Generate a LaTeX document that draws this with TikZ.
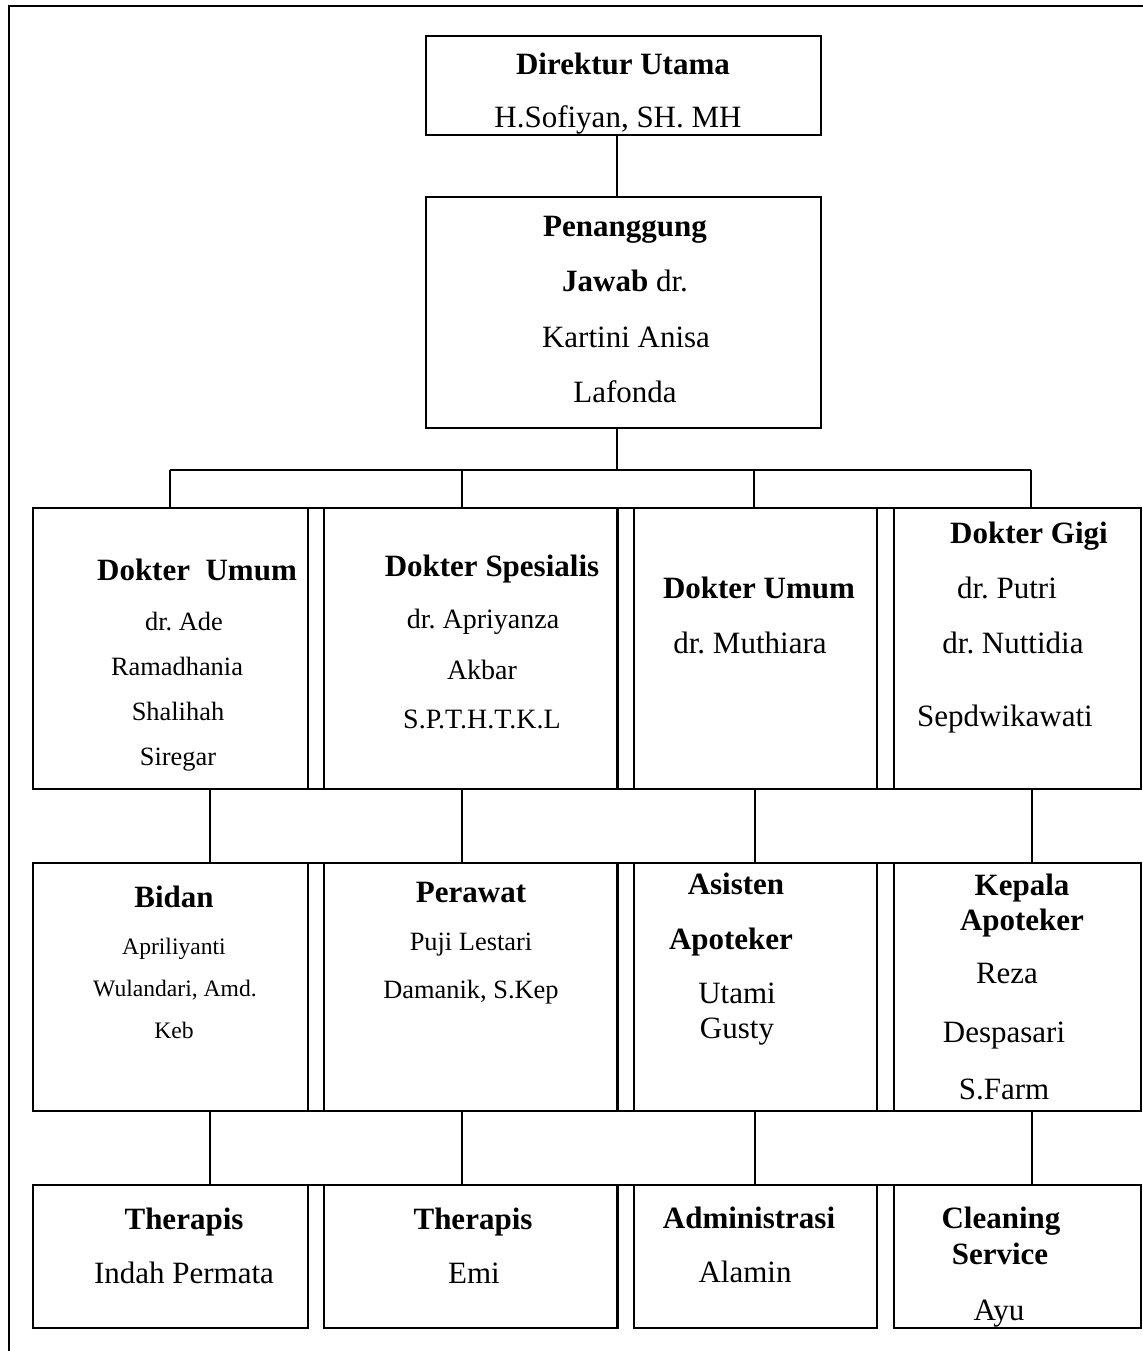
\documentclass[tikz,border=0pt]{standalone}
\usepackage{fontspec}
\setmainfont{Liberation Serif}
\frenchspacing
\begin{document}
\begin{tikzpicture}[x=0.5pt,y=-0.5pt,
  box/.style={draw,line width=1.25pt,inner sep=0pt,outer sep=0pt},
  rowA/.style={minimum height=140.5pt},
  rowB/.style={minimum height=124pt},
  rowC/.style={minimum height=71.5pt},
  colA/.style={minimum width=137.5pt},
  colB/.style={minimum width=146.75pt},
  colC/.style={minimum width=121.5pt},
  colD/.style={minimum width=123.5pt},
  conn/.style={line width=0.85pt},
  frameline/.style={line width=1.25pt},
  rowline/.style={line width=1.25pt},
  big/.style={inner sep=0pt,font=\fontsize{15.5}{18}\selectfont,text height=10.3pt,text depth=0pt},
  med/.style={inner sep=0pt,font=\fontsize{14}{16}\selectfont,text height=9.3pt,text depth=0pt},
  sml/.style={inner sep=0pt,font=\fontsize{13.2}{15}\selectfont,text height=8.7pt,text depth=0pt},
  tiny/.style={inner sep=0pt,font=\fontsize{11.8}{14}\selectfont,text height=7.8pt,text depth=0pt}
]
\useasboundingbox (0,0) rectangle (1143,1351);
% frame (top and left lines)
\coordinate (fTL) at (9,6);
\coordinate (fTR) at (1143,6);
\coordinate (fBL) at (9,1351);
\draw[frameline] (fTR) -- (fTL) -- (fBL);

% top boxes
\node[box,minimum width=197.5pt,minimum height=49.5pt] (top) at (623.5,85.5) {};
\node[box,minimum width=197.5pt,minimum height=115.5pt] (pen) at (623.5,312.5) {};

% row 1
\node[box,rowA,colA] (b11) at (170.5,648.5) {};
\node[box,rowA,colB] (b12) at (470.5,648.5) {};
\node[box,rowA,colC] (b13) at (755.5,648.5) {};
\node[box,rowA,colD] (b14) at (1017.5,648.5) {};
% row 2
\node[box,rowB,colA] (b21) at (170.5,987) {};
\node[box,rowB,colB] (b22) at (470.5,987) {};
\node[box,rowB,colC] (b23) at (755.5,987) {};
\node[box,rowB,colD] (b24) at (1017.5,987) {};
% row 3
\node[box,rowC,colA] (b31) at (170.5,1256.5) {};
\node[box,rowC,colB] (b32) at (470.5,1256.5) {};
\node[box,rowC,colC] (b33) at (755.5,1256.5) {};
\node[box,rowC,colD] (b34) at (1017.5,1256.5) {};

% continuous row lines across gaps
\foreach \r in {1,2}{
  \draw[rowline] (b\r1.north east) -- (b\r2.north west);
  \draw[rowline] (b\r2.north east) -- (b\r3.north west);
  \draw[rowline] (b\r3.north east) -- (b\r4.north west);
  \draw[rowline] (b\r1.south east) -- (b\r2.south west);
  \draw[rowline] (b\r2.south east) -- (b\r3.south west);
  \draw[rowline] (b\r3.south east) -- (b\r4.south west);
}
\draw[rowline] (b31.north east) -- (b32.north west);
\draw[rowline] (b32.north east) -- (b33.north west);
\draw[rowline] (b33.north east) -- (b34.north west);

% connectors
\coordinate (bus) at (617,470);
\coordinate (busL) at (170,470);
\coordinate (busB) at (462,470);
\coordinate (busC) at (754,470);
\coordinate (busR) at (1031,470);
\draw[conn] (top.south -| bus) -- (pen.north -| bus);
\draw[conn] (pen.south -| bus) -- (bus);
\draw[conn] (busL) -- (busR);
\draw[conn] (busL) -- (busL |- b11.north);
\draw[conn] (busB) -- (busB |- b12.north);
\draw[conn] (busC) -- (busC |- b13.north);
\draw[conn] (busR) -- (busR |- b14.north);

\coordinate (xA) at (210,0);
\coordinate (xB) at (462,0);
\coordinate (xC) at (755,0);
\coordinate (xD) at (1032,0);
\draw[conn] (xA |- b11.south) -- (xA |- b21.north);
\draw[conn] (xB |- b12.south) -- (xB |- b22.north);
\draw[conn] (xC |- b13.south) -- (xC |- b23.north);
\draw[conn] (xD |- b14.south) -- (xD |- b24.north);
\draw[conn] (xA |- b21.south) -- (xA |- b31.north);
\draw[conn] (xB |- b22.south) -- (xB |- b32.north);
\draw[conn] (xC |- b23.south) -- (xC |- b33.north);
\draw[conn] (xD |- b24.south) -- (xD |- b34.north);

% texts: top
\node[big] (t1) at (623,64) {\textbf{Direktur Utama}};
\node[big] (t2) at (618,117) {H.Sofiyan, SH. MH};
\node[big] (p1) at (625,226) {\textbf{Penanggung}};
\node[big] (p2) at (625,281) {\textbf{Jawab} dr.};
\node[big] (p3) at (626,337) {Kartini Anisa};
\node[big] (p4) at (625,392) {Lafonda};

% row 1
\node[big] (a1) at (197,570) {\textbf{Dokter\ \ Umum}};
\node[sml] (a2) at (184,622) {dr. Ade};
\node[sml] (a3) at (177,667) {Ramadhania};
\node[sml] (a4) at (178,712) {Shalihah};
\node[sml] (a5) at (178,757) {Siregar};

\node[big] (s1) at (492,566) {\textbf{Dokter Spesialis}};
\node[med] (s2) at (483,619) {dr. Apriyanza};
\node[med] (s3) at (482,670) {Akbar};
\node[med] (s4) at (482,719) {S.P.T.H.T.K.L};

\node[big] (u1) at (759,588) {\textbf{Dokter Umum}};
\node[big] (u2) at (750,643) {dr. Muthiara};

\node[big] (g1) at (1029,533) {\textbf{Dokter Gigi}};
\node[big] (g2) at (1007,588) {dr. Putri};
\node[big] (g3) at (1013,643) {dr. Nuttidia};
\node[big] (g4) at (1005,716) {Sepdwikawati};

% row 2
\node[big] (d1) at (174,897) {\textbf{Bidan}};
\node[tiny] (d2) at (174,947) {Apriliyanti};
\node[tiny] (d3) at (175,989) {Wulandari, Amd.};
\node[tiny] (d4) at (174,1031) {Keb};

\node[big] (w1) at (471,892) {\textbf{Perawat}};
\node[sml] (w2) at (471,942) {Puji Lestari};
\node[sml] (w3) at (471,990) {Damanik, S.Kep};

\node[big] (h1) at (736,884) {\textbf{Asisten}};
\node[big] (h2) at (731,939) {\textbf{Apoteker}};
\node[big] (h3) at (737,993) {Utami};
\node[big] (h4) at (737,1028) {Gusty};

\node[big] (k1) at (1022,885) {\textbf{Kepala}};
\node[big] (k2) at (1022,920) {\textbf{Apoteker}};
\node[big] (k3) at (1007,973) {Reza};
\node[big] (k4) at (1004,1032) {Despasari};
\node[big] (k5) at (1004,1089) {S.Farm};

% row 3
\node[big] (e1) at (184,1219) {\textbf{Therapis}};
\node[big] (e2) at (184,1273) {Indah Permata};
\node[big] (f1) at (473,1219) {\textbf{Therapis}};
\node[big] (f2) at (474,1273) {Emi};
\node[big] (m1) at (749,1218) {\textbf{Administrasi}};
\node[big] (m2) at (745,1272) {Alamin};
\node[big] (c1) at (1001,1218) {\textbf{Cleaning}};
\node[big] (c2) at (1000,1254) {\textbf{Service}};
\node[big] (c3) at (999,1310) {Ayu};
\end{tikzpicture}
\end{document}
